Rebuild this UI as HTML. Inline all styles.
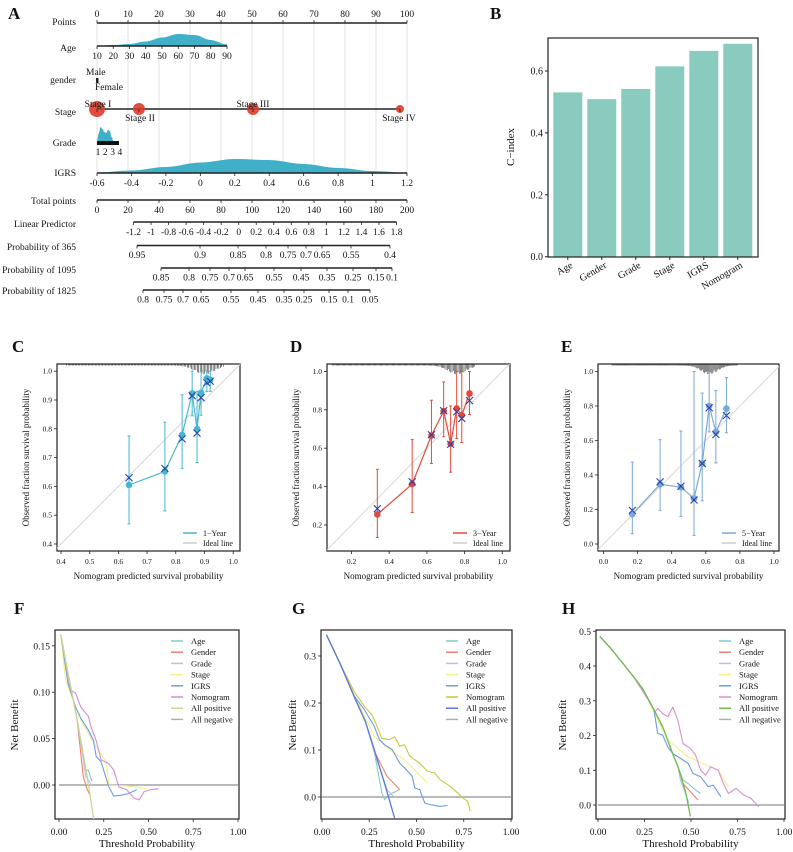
<!DOCTYPE html>
<html><head><meta charset="utf-8">
<style>
html,body{margin:0;padding:0;background:#fff;}
svg{display:block;font-family:"Liberation Serif",serif;}
</style></head>
<body>
<svg id="fig" xmlns="http://www.w3.org/2000/svg" width="793" height="852" viewBox="0 0 793 852">
<defs>
<clipPath id="clipC"><rect x="57" y="364" width="183" height="187"/></clipPath>
<clipPath id="clipD"><rect x="327" y="364" width="183" height="187"/></clipPath>
<clipPath id="clipE"><rect x="598" y="364" width="181" height="187"/></clipPath>
<clipPath id="clipF"><rect x="55" y="630" width="184" height="189"/></clipPath>
<clipPath id="clipG"><rect x="321" y="630" width="191" height="189"/></clipPath>
<clipPath id="clipH"><rect x="596" y="630" width="189" height="189"/></clipPath>
</defs>
<g id="root"></g>
</svg>
<script>
// ---------- data ----------
// Panel B
const bCategories = ["Age","Gender","Grade","Stage","IGRS","Nomogram"];
const bValues = [0.531,0.509,0.542,0.615,0.665,0.688];
const bTicks = [0.0,0.2,0.4,0.6];

// Nomogram densities
const ageGrid = [10,20,30,40,50,60,70,80,90];
const ageDensity = [0.3,1,2,4.5,8.5,12,11,6,1.5];
const igrsGrid = [-0.6,-0.4,-0.2,0,0.2,0.4,0.6,0.8,1.0,1.2];
const igrsDensity = [0.5,2.5,6,10.5,14,13,9,5,2,0.3];
const gradeGrid = [1,1.25,1.5,1.75,2,2.25,2.5,2.75,3,3.25];
const gradeDensity = [0,8,14,12,9,8,11,10,4,0];

// Calibration C (1-year)
const cPred = [0.637,0.762,0.822,0.857,0.874,0.888,0.908,0.920];
const cObs  = [0.605,0.652,0.779,0.923,0.799,0.925,0.975,0.970];
const cKM   = [0.630,0.662,0.765,0.915,0.785,0.908,0.960,0.965];
const cLo   = [0.470,0.515,0.663,0.845,0.683,0.847,0.930,0.930];
const cHi   = [0.775,0.823,0.918,1.000,0.930,1.000,1.000,1.000];
const cTicksX = [0.4,0.5,0.6,0.7,0.8,0.9,1.0];
const cTicksY = [0.4,0.5,0.6,0.7,0.8,0.9,1.0];
// Calibration D (3-year)
const dPred = [0.337,0.522,0.624,0.689,0.726,0.758,0.785,0.826];
const dObs  = [0.255,0.413,0.666,0.793,0.623,0.807,0.772,0.885];
const dKM   = [0.285,0.425,0.670,0.795,0.620,0.790,0.755,0.848];
const dLo   = [0.135,0.265,0.520,0.660,0.475,0.650,0.630,0.775];
const dHi   = [0.490,0.645,0.850,0.945,0.820,1.000,1.000,1.000];
const dTicksX = [0.2,0.4,0.6,0.8,1.0];
const dTicksY = [0.2,0.4,0.6,0.8,1.0];
// Calibration E (5-year)
const ePred = [0.169,0.332,0.454,0.531,0.579,0.620,0.659,0.721];
const eObs  = [0.173,0.346,0.329,0.265,0.467,0.800,0.650,0.785];
const eKM   = [0.195,0.360,0.335,0.255,0.467,0.790,0.635,0.745];
const eLo   = [0.060,0.195,0.160,0.050,0.250,0.650,0.470,0.645];
const eHi   = [0.475,0.605,0.655,1.000,0.875,1.000,0.890,0.965];
const eTicksX = [0.0,0.2,0.4,0.6,0.8,1.0];
const eTicksY = [0.0,0.2,0.4,0.6,0.8,1.0];

// DCA F (1-year)  [threshold, net benefit]
const fAllPos = [[0.01,0.162],[0.05,0.12],[0.10,0.072],[0.15,0.018],[0.20,-0.044]];
const fNomogram = [[0.01,0.162],[0.065,0.102],[0.093,0.099],[0.122,0.084],[0.164,0.074],[0.178,0.063],[0.207,0.048],[0.235,0.027],[0.278,0.023],[0.306,0.016],[0.334,-0.002],[0.377,-0.005],[0.419,-0.014],[0.447,-0.016],[0.476,-0.007],[0.518,-0.005],[0.555,-0.004]];
const fIGRS = [[0.01,0.162],[0.051,0.109],[0.093,0.084],[0.122,0.072],[0.164,0.059],[0.193,0.048],[0.207,0.031],[0.235,0.025],[0.278,-0.002],[0.306,-0.012],[0.348,-0.011],[0.391,-0.009],[0.434,-0.005]];
const fStage = [[0.01,0.162],[0.037,0.113],[0.122,0.07],[0.207,0.041],[0.263,0.025],[0.278,0.0],[0.377,-0.001],[0.49,-0.004]];
const fAge = [[0.01,0.162],[0.05,0.12],[0.10,0.072],[0.15,0.016],[0.164,0.016],[0.184,0.004]];
const fGender = [[0.01,0.162],[0.05,0.12],[0.10,0.072],[0.136,0.009],[0.156,-0.004],[0.178,-0.013]];
const fGrade = [[0.01,0.162],[0.05,0.12],[0.10,0.072],[0.15,0.009],[0.187,-0.001]];
const fTicksY = [0.00,0.05,0.10,0.15];
// DCA G (3-year)
const gAllPos = [[0.024,0.345],[0.10,0.28],[0.17,0.214],[0.23,0.16],[0.277,0.100],[0.33,0.03],[0.384,-0.045]];
const gNomogram = [[0.024,0.345],[0.10,0.28],[0.17,0.225],[0.224,0.193],[0.264,0.175],[0.277,0.164],[0.317,0.125],[0.357,0.122],[0.384,0.128],[0.411,0.108],[0.437,0.111],[0.464,0.087],[0.517,0.072],[0.557,0.055],[0.597,0.051],[0.624,0.037],[0.677,0.023],[0.717,0.009],[0.744,-0.002],[0.771,-0.009],[0.784,-0.030]];
const gIGRS = [[0.024,0.345],[0.10,0.28],[0.17,0.215],[0.224,0.186],[0.277,0.150],[0.304,0.122],[0.331,0.111],[0.371,0.101],[0.411,0.072],[0.437,0.062],[0.477,0.044],[0.491,0.019],[0.517,0.016],[0.544,-0.013],[0.571,-0.016],[0.624,-0.02],[0.664,-0.018]];
const gStage = [[0.024,0.345],[0.10,0.28],[0.17,0.218],[0.277,0.129],[0.357,0.101],[0.437,0.079],[0.557,0.03]];
const gAge = [[0.024,0.345],[0.10,0.28],[0.17,0.214],[0.23,0.16],[0.277,0.095],[0.317,0.009],[0.331,-0.006],[0.357,0.005],[0.411,0.016]];
const gGender = [[0.024,0.345],[0.10,0.28],[0.17,0.214],[0.23,0.16],[0.277,0.097],[0.344,0.044],[0.411,0.016]];
const gGrade = [[0.024,0.345],[0.10,0.28],[0.17,0.214],[0.23,0.16],[0.277,0.095],[0.344,0.016],[0.378,0.001]];
const gTicksY = [0.0,0.1,0.2,0.3];
// DCA H (5-year)
const hAllPos = [[0.01,0.485],[0.07,0.45],[0.13,0.41],[0.19,0.37],[0.24,0.335],[0.30,0.275],[0.348,0.225],[0.40,0.15],[0.43,0.11],[0.47,0.04],[0.497,-0.033]];
const hNomogram = [[0.01,0.485],[0.07,0.45],[0.13,0.41],[0.19,0.37],[0.226,0.34],[0.266,0.306],[0.307,0.268],[0.321,0.278],[0.348,0.263],[0.375,0.254],[0.402,0.282],[0.429,0.244],[0.457,0.177],[0.497,0.163],[0.524,0.144],[0.552,0.1],[0.579,0.086],[0.606,0.11],[0.647,0.1],[0.674,0.062],[0.701,0.033],[0.742,0.048],[0.783,0.029],[0.823,0.019],[0.864,-0.005]];
const hIGRS = [[0.01,0.485],[0.07,0.45],[0.13,0.41],[0.19,0.37],[0.24,0.335],[0.30,0.275],[0.321,0.206],[0.348,0.201],[0.375,0.167],[0.402,0.148],[0.443,0.134],[0.484,0.12],[0.511,0.091],[0.552,0.081],[0.592,0.053],[0.62,0.057],[0.66,0.024]];
const hStage = [[0.01,0.485],[0.07,0.45],[0.13,0.41],[0.19,0.37],[0.24,0.335],[0.30,0.27],[0.375,0.187],[0.484,0.139],[0.647,0.1],[0.701,0.053]];
const hAge = [[0.01,0.485],[0.07,0.45],[0.13,0.41],[0.19,0.37],[0.24,0.335],[0.30,0.275],[0.348,0.225],[0.40,0.15],[0.43,0.11],[0.457,0.072],[0.484,0.062],[0.524,0.043],[0.552,0.033]];
const hGender = [[0.01,0.485],[0.07,0.45],[0.13,0.41],[0.19,0.37],[0.24,0.335],[0.30,0.275],[0.348,0.225],[0.40,0.15],[0.43,0.11],[0.457,0.062],[0.538,0.014]];
const hGrade = [[0.01,0.485],[0.07,0.45],[0.13,0.41],[0.19,0.37],[0.24,0.335],[0.30,0.275],[0.348,0.225],[0.40,0.15],[0.43,0.11],[0.443,0.072],[0.489,0.005]];
const hTicksY = [0.0,0.1,0.2,0.3,0.4,0.5];
const dcaTicksX = [0.00,0.25,0.50,0.75,1.00];
const dcaLegend = ["Age","Gender","Grade","Stage","IGRS","Nomogram","All positive","All negative"];

// ---------- helpers ----------
const NS = "http://www.w3.org/2000/svg";
const root = document.getElementById("root");
function mk(tag, attrs, name, parent) {
  const el = document.createElementNS(NS, tag);
  for (const k in attrs) el.setAttribute(k, attrs[k]);
  
  
  (parent || root).appendChild(el);
  return el;
}
function grp(name, parent, clip) {
  const a = {}; if (clip) a["clip-path"] = "url(#" + clip + ")";
  return mk("g", a, name, parent);
}
function line(g, x1, y1, x2, y2, stroke, w, name) {
  return mk("line", {x1:x1, y1:y1, x2:x2, y2:y2, stroke:stroke, "stroke-width":w}, name, g);
}
function text(g, x, y, s, size, anchor, name, extra) {
  const a = {x:x, y:y, "font-size":size, "text-anchor":anchor || "start", fill:"#111"};
  if (extra) for (const k in extra) a[k] = extra[k];
  const t = mk("text", a, name, g);
  t.textContent = s;
  return t;
}
function poly(g, pts, stroke, w, name) {
  return mk("polyline", {points: pts.map(p => p[0].toFixed(1) + "," + p[1].toFixed(1)).join(" "), fill:"none", stroke:stroke, "stroke-width":w, "stroke-linejoin":"round"}, name, g);
}
function smoothArea(g, xs, hs, xf, base, name) {
  const pts = [];
  for (let i = 0; i < xs.length - 1; i++) {
    for (let k = 0; k < 8; k++) {
      const u = k / 8, s = (1 - Math.cos(Math.PI * u)) / 2;
      pts.push([xf(xs[i] + (xs[i+1] - xs[i]) * u), base - (hs[i] + (hs[i+1] - hs[i]) * s)]);
    }
  }
  pts.push([xf(xs[xs.length-1]), base - hs[hs.length-1]]);
  let d = "M" + xf(xs[0]) + "," + base;
  pts.forEach(p => d += " L" + p[0].toFixed(1) + "," + p[1].toFixed(1));
  d += " L" + xf(xs[xs.length-1]) + "," + base + " Z";
  return mk("path", {d:d, fill:"#3fb0c8", stroke:"none"}, name, g);
}
function panelLabel(x, y, s) {
  text(root, x, y, s, 17, "start", "panel-label-" + s.toLowerCase(), {"font-weight":"bold"});
}

// ---------- Panel A: nomogram ----------
panelLabel(8, 19, "A");
const A = grp("nomogram-panel");
const ptX = v => 97 + v * 3.1;
for (let v = 0; v <= 100; v += 10) line(A, ptX(v), 23, ptX(v), 174, "#dcdcdc", 0.8, "nomogram-gridline");
function rowLabel(y, s) { text(A, 76, y, s, 9.5, "end", "row-label-" + s.toLowerCase().replace(/ /g, "-")); }
function scale(y, vals, xf, labels, labelDy, nameBase, tickDir) {
  line(A, xf(vals[0]), y, xf(vals[vals.length-1]), y, "#222", 1.6, nameBase + "-axis");
  vals.forEach((v, i) => {
    line(A, xf(v), y, xf(v), y + (tickDir || 3), "#222", 0.8, nameBase + "-tick");
    text(A, xf(v), y + labelDy, labels[i], 9.5, "middle", nameBase + "-tick-label");
  });
}
rowLabel(25, "Points");
const ptVals = [0,10,20,30,40,50,60,70,80,90,100];
line(A, ptX(0), 23, ptX(100), 23, "#222", 1.6, "points-axis");
ptVals.forEach(v => { line(A, ptX(v), 23, ptX(v), 20, "#222", 0.8, "points-tick"); text(A, ptX(v), 17, String(v), 9.5, "middle", "points-tick-label"); });
rowLabel(51, "Age");
const ageX = a => 97 + (a - 10) * (130 / 80);
smoothArea(A, ageGrid, ageDensity, ageX, 46, "age-density");
scale(46, ageGrid, ageX, ageGrid.map(String), 13, "age", 3);
rowLabel(83, "gender");
text(A, 86, 75, "Male", 9.5, "start", "gender-male-label");
text(A, 95, 90, "Female", 9.5, "start", "gender-female-label");
mk("rect", {x:96, y:78, width:2.5, height:5, fill:"#222"}, "gender-axis", A);
rowLabel(115, "Stage");
line(A, 97, 109, 400, 109, "#222", 1.4, "stage-axis");
[[97,8],[139,6],[253,6],[400,4]].forEach(c => mk("circle", {cx:c[0], cy:109, r:c[1], fill:"#e03a2a", opacity:0.9}, "stage-point", A));
[97,139,253,400].forEach(x => line(A, x, 109, x, 112, "#222", 0.8, "stage-tick"));
text(A, 98, 107, "Stage I", 9.5, "middle", "stage-i-label");
text(A, 140, 121, "Stage II", 9.5, "middle", "stage-ii-label");
text(A, 253, 107, "Stage III", 9.5, "middle", "stage-iii-label");
text(A, 399, 121, "Stage IV", 9.5, "middle", "stage-iv-label");
rowLabel(146, "Grade");
const gradeX = g => 97 + (g - 1) * 7.3;
smoothArea(A, gradeGrid, gradeDensity, gradeX, 141, "grade-density");
mk("rect", {x:97, y:141, width:22, height:4, fill:"#111"}, "grade-axis", A);
[1,2,3,4].forEach(g => text(A, gradeX(g) + 1, 155, String(g), 9.5, "middle", "grade-tick-label"));
rowLabel(176, "IGRS");
const igrsX = v => 97 + (v + 0.6) * (310 / 1.8);
smoothArea(A, igrsGrid, igrsDensity, igrsX, 173, "igrs-density");
scale(173, igrsGrid, igrsX, ["-0.6","-0.4","-0.2","0","0.2","0.4","0.6","0.8","1","1.2"], 13, "igrs", 3);
rowLabel(204, "Total points");
const tpX = v => 97 + v * 1.55;
const tpVals = [0,20,40,60,80,100,120,140,160,180,200];
line(A, tpX(0), 200, tpX(200), 200, "#222", 1.6, "total-points-axis");
tpVals.forEach(v => { line(A, tpX(v), 200, tpX(v), 203, "#222", 0.8, "total-points-tick"); text(A, tpX(v), 213, String(v), 9.5, "middle", "total-points-tick-label"); });
rowLabel(227, "Linear Predictor");
const lpVals = [-1.2,-1,-0.8,-0.6,-0.4,-0.2,0,0.2,0.4,0.6,0.8,1,1.2,1.4,1.6,1.8];
const lpX = v => 133.5 + (v + 1.2) * (263 / 3);
scale(222, lpVals, lpX, lpVals.map(String), 13, "linear-predictor", 3);
const p365Pos = [137,200,238,266,288,306,322,351,390];
const p365Lab = ["0.95","0.9","0.85","0.8","0.75","0.7","0.65","0.55","0.4"];
rowLabel(250, "Probability of 365");
scale(245.5, p365Pos, x => x, p365Lab, 12.5, "prob-365", 3);
const p1095Pos = [161,189,210,229,245,274,301,327,353,376,392];
const p1095Lab = ["0.85","0.8","0.75","0.7","0.65","0.55","0.45","0.35","0.25","0.15","0.1"];
rowLabel(273, "Probability of 1095");
scale(268, p1095Pos, x => x, p1095Lab, 12.5, "prob-1095", 3);
const p1825Pos = [143,164,183,201,231,258,284,304,329,348,370];
const p1825Lab = ["0.8","0.75","0.7","0.65","0.55","0.45","0.35","0.25","0.15","0.1","0.05"];
rowLabel(294, "Probability of 1825");
scale(290, p1825Pos, x => x, p1825Lab, 12.5, "prob-1825", 3);

// ---------- Panel B ----------
panelLabel(490, 19, "B");
const B = grp("c-index-bar-chart");
const bY = v => 256.7 - v * 309.5;
const bX = i => 553.3 + i * 34;
bCategories.forEach((c, i) => {
  mk("rect", {x:bX(i), y:bY(bValues[i]), width:29, height:bY(0) - bY(bValues[i]), fill:"#89cbbf"}, "bar-" + c.toLowerCase(), B);
  line(B, bX(i) + 14.5, 257, bX(i) + 14.5, 260, "#222", 1, "x-tick");
  text(B, bX(i) + 20, 267, c, 10, "end", "x-tick-label", {transform:"rotate(-30 " + (bX(i) + 20) + " 267)"});
});
mk("rect", {x:548, y:38, width:210, height:219, fill:"none", stroke:"#222", "stroke-width":1.2}, "plot-frame", B);
bTicks.forEach(v => { line(B, 545, bY(v), 548, bY(v), "#222", 1, "y-tick"); text(B, 543, bY(v) + 3.5, v.toFixed(1), 10, "end", "y-tick-label"); });
text(B, 514, 147, "C\u2212index", 11, "middle", "y-axis-title", {transform:"rotate(-90 514 147)"});

// ---------- Calibration panels ----------
function calib(cfg) {
  panelLabel(cfg.lx, 352, cfg.label);
  const G = grp("calibration-panel-" + cfg.label.toLowerCase());
  const f = cfg.frame;
  mk("rect", {x:f[0], y:f[1], width:f[2], height:f[3], fill:"#fff", stroke:"#222", "stroke-width":1.2}, "plot-frame", G);
  const C = grp("plot-area", G, cfg.clip);
  line(C, cfg.xs(-0.2), cfg.ys(-0.2), cfg.xs(1.2), cfg.ys(1.2), "#d8d8d8", 1, "ideal-line");
  for (let i = 0; i < cfg.rugN; i++) {
    const u = i / cfg.rugN;
    const v = cfg.rugLo + (cfg.rugHi - cfg.rugLo) * u;
    const d = Math.exp(-Math.pow((v - cfg.rugPeak) / cfg.rugW, 2));
    const h = 1.5 + 9 * d * (0.6 + 0.4 * Math.abs(Math.sin(i * 2.3)));
    line(C, cfg.xs(v), f[1], cfg.xs(v), f[1] + h, "#111", 0.5, "rug-mark");
  }
  cfg.pred.forEach((p, i) => {
    const x = cfg.xs(p);
    line(C, x, cfg.ys(cfg.lo[i]), x, cfg.ys(cfg.hi[i]), cfg.col, 1, "error-bar");
    line(C, x - 1.5, cfg.ys(cfg.lo[i]), x + 1.5, cfg.ys(cfg.lo[i]), cfg.col, 1, "error-cap");
    line(C, x - 1.5, cfg.ys(cfg.hi[i]), x + 1.5, cfg.ys(cfg.hi[i]), cfg.col, 1, "error-cap");
  });
  poly(C, cfg.pred.map((p, i) => [cfg.xs(p), cfg.ys(cfg.obs[i])]), cfg.col, 1.2, "calibration-line");
  cfg.pred.forEach((p, i) => {
    mk("circle", {cx:cfg.xs(p), cy:cfg.ys(cfg.obs[i]), r:3.3, fill:cfg.col}, "observed-point", C);
    const x = cfg.xs(p), y = cfg.ys(cfg.km[i]);
    mk("path", {d:"M" + (x-3.5) + "," + (y-3.5) + " L" + (x+3.5) + "," + (y+3.5) + " M" + (x-3.5) + "," + (y+3.5) + " L" + (x+3.5) + "," + (y-3.5), stroke:"#2a40b0", "stroke-width":1.1, fill:"none"}, "km-estimate-mark", C);
  });
  cfg.tx.forEach(v => { line(G, cfg.xs(v), f[1]+f[3], cfg.xs(v), f[1]+f[3]+3, "#222", 0.8, "x-tick"); text(G, cfg.xs(v), f[1]+f[3]+13, v.toFixed(1), 7.5, "middle", "x-tick-label"); });
  cfg.ty.forEach(v => { line(G, f[0]-3, cfg.ys(v), f[0], cfg.ys(v), "#222", 0.8, "y-tick"); text(G, f[0]-5, cfg.ys(v) + 2.5, v.toFixed(1), 7.5, "end", "y-tick-label"); });
  text(G, f[0] + f[2]/2, 579, "Nomogram predicted survival probability", 9, "middle", "x-axis-title");
  const yx = f[0] - 28, yy = f[1] + f[3]/2;
  text(G, yx, yy, "Observed fraction survival probability", 9, "middle", "y-axis-title", {transform:"rotate(-90 " + yx + " " + yy + ")"});
  const lx = f[0] + f[2] - 57;
  line(G, lx, 533, lx + 14, 533, cfg.col, 1.5, "legend-swatch-model");
  text(G, lx + 20, 536, cfg.legend, 8, "start", "legend-entry-model");
  line(G, lx, 543, lx + 14, 543, "#ccc", 1.5, "legend-swatch-ideal");
  text(G, lx + 20, 546, "Ideal line", 8, "start", "legend-entry-ideal");
}
calib({label:"C", lx:12, frame:[57,364,183,187], clip:"clipC", col:"#45b8d0", legend:"1\u2212Year",
  xs:v => 61 + (v - 0.4) * 287, ys:v => 544 - (v - 0.4) * 288,
  pred:cPred, obs:cObs, km:cKM, lo:cLo, hi:cHi, tx:cTicksX, ty:cTicksY,
  rugN:110, rugLo:0.42, rugHi:0.97, rugPeak:0.9, rugW:0.05});
calib({label:"D", lx:290, frame:[327,364,183,187], clip:"clipD", col:"#e04a3a", legend:"3\u2212Year",
  xs:v => 351.5 + (v - 0.2) * 188.5, ys:v => 525 - (v - 0.2) * 192,
  pred:dPred, obs:dObs, km:dKM, lo:dLo, hi:dHi, tx:dTicksX, ty:dTicksY,
  rugN:120, rugLo:0.1, rugHi:0.86, rugPeak:0.76, rugW:0.07});
calib({label:"E", lx:561, frame:[598,364,181,187], clip:"clipE", col:"#7aa8d4", legend:"5\u2212Year",
  xs:v => 603.5 + v * 170.5, ys:v => 544 - v * 172.5,
  pred:ePred, obs:eObs, km:eKM, lo:eLo, hi:eHi, tx:eTicksX, ty:eTicksY,
  rugN:120, rugLo:0.05, rugHi:0.79, rugPeak:0.62, rugW:0.07});

// ---------- DCA panels ----------
const dcaCols = {age:"#7ecfc0", gender:"#f08070", grade:"#c4bce2", stage:"#f2f08a", igrs:"#6a9de0", neg:"#b0b0b0"};
function dca(cfg) {
  panelLabel(cfg.lx, 614, cfg.label);
  const G = grp("dca-panel-" + cfg.label.toLowerCase());
  const f = cfg.frame;
  mk("rect", {x:f[0], y:f[1], width:f[2], height:f[3], fill:"#fff", stroke:"#222", "stroke-width":1.2}, "plot-frame", G);
  const C = grp("plot-area", G, cfg.clip);
  const P = arr => arr.map(p => [cfg.xs(p[0]), cfg.ys(p[1])]);
  line(C, cfg.xs(0), cfg.ys(0), cfg.xs(1), cfg.ys(0), dcaCols.neg, 1.8, "all-negative-line");
  poly(C, P(cfg.age), dcaCols.age, 1.1, "age-line");
  poly(C, P(cfg.gender), dcaCols.gender, 1.1, "gender-line");
  poly(C, P(cfg.grade), dcaCols.grade, 1.1, "grade-line");
  poly(C, P(cfg.stage), dcaCols.stage, 1.1, "stage-line");
  poly(C, P(cfg.igrs), dcaCols.igrs, 1.1, "igrs-line");
  poly(C, P(cfg.nomo), cfg.nomoCol, 1.1, "nomogram-line");
  poly(C, P(cfg.allPos), cfg.posCol, 1.3, "all-positive-line");
  dcaTicksX.forEach(v => { line(G, cfg.xs(v), f[1]+f[3], cfg.xs(v), f[1]+f[3]+3, "#222", 0.8, "x-tick"); text(G, cfg.xs(v), f[1]+f[3]+16, v.toFixed(2), 9.5, "middle", "x-tick-label"); });
  cfg.ty.forEach(v => { line(G, f[0]-3, cfg.ys(v), f[0], cfg.ys(v), "#222", 0.8, "y-tick"); text(G, f[0]-5, cfg.ys(v) + 3.5, v.toFixed(cfg.dec), 9.5, "end", "y-tick-label"); });
  text(G, f[0] + f[2]/2, 847, "Threshold Probability", 11, "middle", "x-axis-title");
  const yx = cfg.lx + 4, yy = 725;
  text(G, yx, yy, "Net Benefit", 11, "middle", "y-axis-title", {transform:"rotate(-90 " + yx + " " + yy + ")"});
  const cols = [dcaCols.age, dcaCols.gender, dcaCols.grade, dcaCols.stage, dcaCols.igrs, cfg.nomoCol, cfg.posCol, dcaCols.neg];
  dcaLegend.forEach((s, i) => {
    const y = 641 + i * 11.2;
    line(G, cfg.legX, y, cfg.legX + 12, y, cols[i], 1.5, "legend-swatch");
    text(G, cfg.legX + 20, y + 3, s, 8.5, "start", "legend-entry");
  });
}
dca({label:"F", lx:14, frame:[55,630,184,189], clip:"clipF", xs:t => 59 + t * 179, ys:v => 785 - v * 928, dec:2, ty:fTicksY,
  allPos:fAllPos, nomo:fNomogram, igrs:fIGRS, stage:fStage, age:fAge, gender:fGender, grade:fGrade,
  posCol:"#c8d890", nomoCol:"#d090d0", legX:171});
dca({label:"G", lx:292, frame:[321,630,191,189], clip:"clipG", xs:t => 322 + t * 189, ys:v => 797 - v * 470, dec:1, ty:gTicksY,
  allPos:gAllPos, nomo:gNomogram, igrs:gIGRS, stage:gStage, age:gAge, gender:gGender, grade:gGrade,
  posCol:"#5a78d8", nomoCol:"#c8c840", legX:446});
dca({label:"H", lx:562, frame:[596,630,189,189], clip:"clipH", xs:t => 598 + t * 186, ys:v => 805 - v * 347.5, dec:1, ty:hTicksY,
  allPos:hAllPos, nomo:hNomogram, igrs:hIGRS, stage:hStage, age:hAge, gender:hGender, grade:hGrade,
  posCol:"#6cc050", nomoCol:"#d890d0", legX:719});
</script>
</body></html>
